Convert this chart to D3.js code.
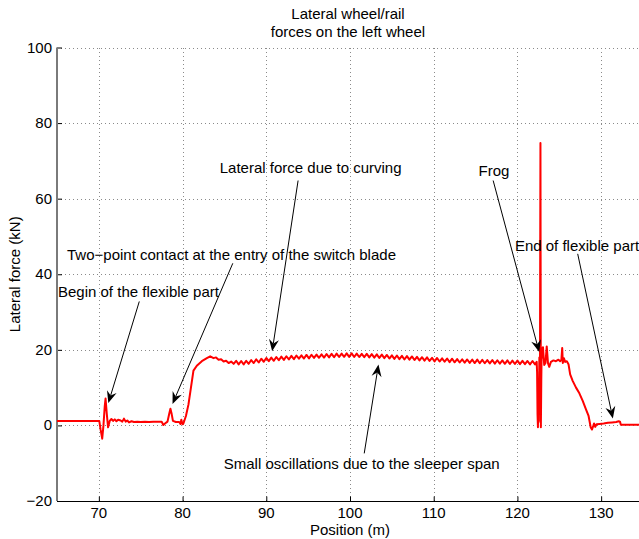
<!DOCTYPE html>
<html>
<head>
<meta charset="utf-8">
<script src="https://cdn.jsdelivr.net/npm/d3@7"></script>
<style>
  html, body { margin: 0; padding: 0; background: #fff; overflow: hidden; }
  svg { display: block; font-family: "Liberation Sans", Arial, Helvetica, sans-serif; }
</style>
</head>
<body>
<svg id="chart" width="639" height="539"></svg>
<script>
// ---------- data ----------
const titleLines = ["Lateral wheel/rail", "forces on the left wheel"];
const xLabel = "Position (m)";
const yLabel = "Lateral force (kN)";
const xTicks = [70, 80, 90, 100, 110, 120, 130];
const yTicks = [-20, 0, 20, 40, 60, 80, 100];
const xDomain = [65, 135];
const yDomain = [-20, 100];

// Position (m) and lateral force (kN)
const position = [
  65, 70.05, 70.2, 70.4, 70.55, 70.7, 70.8, 70.95, 71.1, 71.3, 71.5, 71.7, 71.9, 72.1, 72.3, 72.6, 72.8,
  73.0, 73.2, 73.4, 73.6, 73.9, 74.2, 74.6, 75.0, 75.5, 76.0, 76.5, 77.0, 77.5, 77.7, 77.9, 78.2, 78.4,
  78.55, 78.7, 78.85, 79.2, 79.6, 79.75, 79.85, 80.0, 80.1, 80.4, 80.7, 81.0, 81.3, 81.7, 82.3, 82.9,
  83.3, 83.7, 84.0, 84.3, 84.6, 84.9, 85.2, 85.5, 85.8, 86.1,
  86.4, 86.7, 87.0, 87.3, 87.6, 87.9, 88.2, 88.5, 88.8, 89.1, 89.4, 89.7, 90.0, 90.3, 90.6, 90.9,
  91.2, 91.5, 91.8, 92.1, 92.4, 92.7, 93.0, 93.3, 93.6, 93.9, 94.2, 94.5, 94.8, 95.1, 95.4, 95.7,
  96.0, 96.3, 96.6, 96.9, 97.2, 97.5, 97.8, 98.1, 98.4, 98.7, 99.0, 99.3, 99.6, 99.9, 100.2, 100.5,
  100.8, 101.1, 101.4, 101.7, 102.0, 102.3, 102.6, 102.9, 103.2, 103.5, 103.8, 104.1, 104.4, 104.7,
  105.0, 105.3, 105.6, 105.9, 106.2, 106.5, 106.8, 107.1, 107.4, 107.7, 108.0, 108.3, 108.6, 108.9,
  109.2, 109.5, 109.8, 110.1, 110.4, 110.7, 111.0, 111.3, 111.6, 111.9, 112.2, 112.5, 112.8, 113.1,
  113.4, 113.7, 114.0, 114.3, 114.6, 114.9, 115.2, 115.5, 115.8, 116.1, 116.4, 116.7, 117.0, 117.3,
  117.6, 117.9, 118.2, 118.5, 118.8, 119.1, 119.4, 119.7, 120.0, 120.3, 120.6, 120.9, 121.2, 121.5,
  121.8, 122.1, 122.3,
  122.35, 122.4, 122.45, 122.5, 122.55, 122.62, 122.68, 122.75, 122.8, 122.85, 122.9, 122.95, 123.05,
  123.2, 123.35, 123.5, 123.65, 123.8, 124.0, 124.3, 124.6, 124.9, 125.1, 125.25, 125.35, 125.42,
  125.55, 125.7, 125.9, 126.1, 126.3, 126.6, 127.0, 127.4, 127.8, 128.2, 128.5, 128.75, 128.9, 129.05,
  129.15, 129.3, 129.45, 129.8, 130.3, 130.8, 131.3, 131.8, 132.1, 132.25, 132.35, 135
];
const force = [
  1.2, 1.2, -1.0, -3.5, 0.0, 5.0, 7.1, 3.0, -0.5, 1.2, 1.7, 1.2, 1.6, 1.1, 1.5, 1.3, 1.0,
  1.8, 1.0, 1.3, 0.8, 1.1, 0.9, 1.0, 0.9, 1.0, 0.9, 1.0, 1.0, 1.0, 0.1, 0.5, 1.0, 3.0,
  4.4, 3.0, 1.2, 0.9, 0.9, 0.4, 1.5, 0.3, 0.5, 2.5, 5.5, 10.0, 14.5, 15.8, 17.0, 17.8,
  18.3, 17.8, 18.0, 17.4, 17.5, 16.9, 17.1, 16.5, 16.9, 16.3,
  17.1, 16.15, 17.05, 16.15, 17.1, 16.3, 17.3, 16.5, 17.5, 16.65, 17.65, 16.85, 17.85, 17.0, 17.95, 17.1,
  18.1, 17.25, 18.2, 17.35, 18.3, 17.45, 18.4, 17.55, 18.5, 17.65, 18.55, 17.7, 18.65, 17.75, 18.7, 17.85,
  18.75, 17.9, 18.8, 17.95, 18.9, 18.0, 18.95, 18.05, 19.0, 18.1, 19.0, 18.15, 19.05, 18.15, 19.05, 18.1,
  19.0, 18.1, 18.95, 18.05, 18.95, 18.0, 18.85, 17.95, 18.8, 17.85, 18.75, 17.8, 18.65, 17.7,
  18.55, 17.6, 18.5, 17.55, 18.4, 17.45, 18.35, 17.4, 18.25, 17.3, 18.15, 17.2, 18.05, 17.15,
  18.0, 17.05, 17.9, 16.95, 17.85, 16.9, 17.75, 16.85, 17.7, 16.75, 17.65, 16.7, 17.55, 16.65,
  17.5, 16.6, 17.45, 16.55, 17.4, 16.5, 17.4, 16.45, 17.35, 16.45, 17.3, 16.4, 17.3, 16.35,
  17.25, 16.35, 17.2, 16.3, 17.2, 16.25, 17.15, 16.25, 17.15, 16.2, 17.1, 16.2, 17.05, 16.15,
  17.05, 16.15, 16.8,
  14.0, 3.0, -0.5, 8.0, 1.0, 18.0, 3.0, 74.7, -0.5, 12.0, 20.5, 18.0, 20.7,
  16.0, 16.5, 20.9, 16.5, 15.5, 16.8, 17.2, 17.0, 17.4, 17.0, 17.3, 20.5, 16.5,
  17.8, 16.8, 17.0, 16.2, 13.5, 11.8, 10.0, 8.5, 6.5, 4.2, 2.5, -0.5, -1.1, -0.2,
  0.5, -0.4, 0.3, 0.4, 0.5, 0.7, 0.8, 0.9, 1.1, 1.0, 0.2, 0.2
];

// Annotations: text anchor, text position and arrow (from -> tip), in data units
const annoText = [
  "Begin of the flexible part",
  "Two\u2212point contact at the entry of the switch blade",
  "Lateral force due to curving",
  "Small oscillations due to the sleeper span",
  "Frog",
  "End of flexible part"
];
const annoAnchor = ["start", "start", "middle", "middle", "middle", "start"];
const annoTextX = [65.12, 66.2, 95.3, 101.4, 117.2, 119.7];
const annoTextY = [35.2, 45.0, 68.0, -10.1, 67.2, 47.6];
const arrowFromX = [74.83, 86.0, 93.8, 101.7, 117.1, 127.2];
const arrowFromY = [32.8, 42.9, 64.8, -7.4, 64.8, 45.4];
const arrowToX = [71.13, 78.8, 90.7, 103.4, 122.6, 131.4];
const arrowToY = [5.9, 5.7, 19.6, 16.1, 19.4, 1.8];

// ---------- layout ----------
const svg = d3.select("#chart");
const margin = { left: 57, top: 47.5, right: -4, bottom: 38 };
const W = 639, H = 539;
const x = d3.scaleLinear().domain(xDomain).range([margin.left, W - margin.right]);
const y = d3.scaleLinear().domain(yDomain).range([H - margin.bottom, margin.top]);
const fontSize = 15;

// grid
const grid = svg.append("g").attr("stroke", "#8a8a8a").attr("stroke-width", 1)
  .attr("stroke-dasharray", "1,3");
grid.selectAll("line.gx").data(xTicks).join("line")
  .attr("x1", d => Math.round(x(d)) + 0.5).attr("x2", d => Math.round(x(d)) + 0.5)
  .attr("y1", y(yDomain[0])).attr("y2", y(yDomain[1]));
grid.selectAll("line.gy").data(yTicks.filter(d => d > yDomain[0])).join("line")
  .attr("y1", d => Math.round(y(d)) + 0.5).attr("y2", d => Math.round(y(d)) + 0.5)
  .attr("x1", x(xDomain[0])).attr("x2", x(xDomain[1]));

// axes (inward ticks)
const xAxis = d3.axisTop(x).tickValues(xTicks).tickSize(5).tickFormat("");
const gx = svg.append("g").attr("transform", `translate(0,${Math.round(y(yDomain[0])) + 0.5})`).call(xAxis);
gx.select(".domain").remove();
gx.selectAll("line").attr("stroke", "#000");
svg.append("line")
  .attr("x1", x(xDomain[0])).attr("x2", W)
  .attr("y1", Math.round(y(yDomain[0])) + 0.5).attr("y2", Math.round(y(yDomain[0])) + 0.5)
  .attr("stroke", "#000").attr("stroke-width", 1);

const yAxis = d3.axisRight(y).tickValues(yTicks).tickSize(5).tickFormat("");
const gy = svg.append("g").attr("transform", `translate(${x(xDomain[0])},0)`).call(yAxis);
gy.select(".domain").remove();
gy.selectAll("line").attr("stroke", "#000");
svg.append("line")
  .attr("x1", x(xDomain[0])).attr("x2", x(xDomain[0]))
  .attr("y1", y(yDomain[1])).attr("y2", y(yDomain[0]))
  .attr("stroke", "#7a7a7a").attr("stroke-width", 2);

// tick labels
svg.append("g").selectAll("text").data(xTicks).join("text")
  .attr("x", d => x(d)).attr("y", y(yDomain[0]) + 17)
  .attr("text-anchor", "middle").attr("font-size", fontSize).attr("fill", "#000")
  .text(d => d);
svg.append("g").selectAll("text").data(yTicks).join("text")
  .attr("x", x(xDomain[0]) - 5).attr("y", d => y(d) + 5)
  .attr("text-anchor", "end").attr("font-size", fontSize).attr("fill", "#000")
  .text(d => d < 0 ? "\u2212" + Math.abs(d) : d);

// axis labels and title
const cx = (x(xDomain[0]) + x(xDomain[1])) / 2;
svg.append("text").attr("x", cx).attr("y", 535)
  .attr("text-anchor", "middle").attr("font-size", fontSize).text(xLabel);
svg.append("text")
  .attr("transform", `translate(20,${(y(yDomain[0]) + y(yDomain[1])) / 2}) rotate(-90)`)
  .attr("text-anchor", "middle").attr("font-size", fontSize).text(yLabel);
svg.append("g").selectAll("text").data(titleLines).join("text")
  .attr("x", cx - 2).attr("y", (d, i) => 19 + i * 18)
  .attr("text-anchor", "middle").attr("font-size", fontSize).text(d => d);

// data line
const pts = position.map((p, i) => [p, force[i]]);
svg.append("path").datum(pts)
  .attr("fill", "none").attr("stroke", "#ff0000").attr("stroke-width", 2)
  .attr("stroke-linejoin", "round")
  .attr("d", d3.line().x(d => x(d[0])).y(d => y(d[1])));

// annotations
const ann = svg.append("g");
annoText.forEach((t, i) => {
  ann.append("text")
    .attr("x", x(annoTextX[i])).attr("y", y(annoTextY[i]) + 5)
    .attr("text-anchor", annoAnchor[i]).attr("font-size", fontSize).attr("fill", "#000")
    .text(t);
  const x1 = x(arrowFromX[i]), y1 = y(arrowFromY[i]);
  const x2 = x(arrowToX[i]), y2 = y(arrowToY[i]);
  const ang = Math.atan2(y2 - y1, x2 - x1);
  const L = 12, Wd = 5, N = 8;
  const ux = Math.cos(ang), uy = Math.sin(ang);
  const bx = x2 - ux * L, by = y2 - uy * L;
  const nx = x2 - ux * N, ny = y2 - uy * N;
  ann.append("line")
    .attr("x1", x1).attr("y1", y1).attr("x2", nx).attr("y2", ny)
    .attr("stroke", "#000").attr("stroke-width", 1);
  ann.append("path")
    .attr("d", `M${x2},${y2} L${bx - uy * Wd},${by + ux * Wd} L${nx},${ny} L${bx + uy * Wd},${by - ux * Wd} Z`)
    .attr("fill", "#000");
});
</script>
</body>
</html>
